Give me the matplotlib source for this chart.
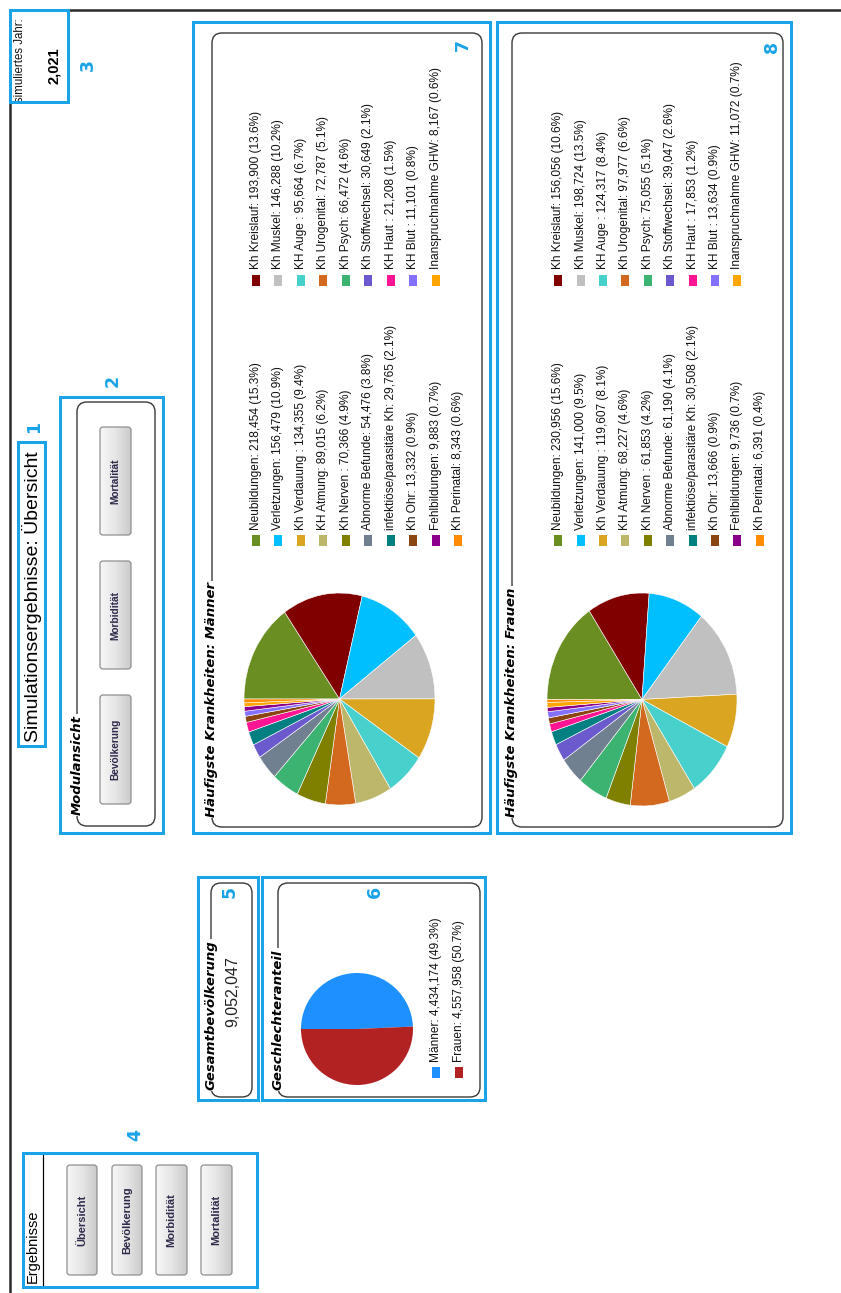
import matplotlib
matplotlib.use("Agg")
import matplotlib.pyplot as plt
from matplotlib.patches import FancyBboxPatch, Rectangle
from matplotlib.colors import LinearSegmentedColormap
import numpy as np

# ---------------- data ----------------
sim_year_label = "simuliertes Jahr:"
sim_year = 2021
page_title = "Simulationsergebnisse: Übersicht"
total_population = 9052047

gender_labels = ["Männer", "Frauen"]
gender_values = [4434174, 4557958]
gender_colors = ["#1E90FF", "#B22222"]

disease_names = ["Neubildungen", "Kh Kreislauf", "Verletzungen", "Kh Muskel",
                 "Kh Verdauung ", "KH Auge ", "KH Atmung", "Kh Urogenital",
                 "Kh Nerven ", "Kh Psych", "Abnorme Befunde", "Kh Stoffwechsel",
                 "infektiöse/parasitäre Kh", "KH Haut ", "Kh Ohr", "KH Blut ",
                 "Fehlbildungen", "Inanspruchnahme GHW", "Kh Perinatal"]
men_values = [218454, 193900, 156479, 146288, 134355, 95664, 89015, 72787,
              70366, 66472, 54476, 30649, 29765, 21208, 13332, 11101,
              9883, 8167, 8343]
women_values = [230956, 156056, 141000, 198724, 119607, 124317, 68227, 97977,
                 61853, 75055, 61190, 39047, 30508, 17853, 13666, 13634,
                 9736, 11072, 6391]
disease_colors = ["#6B8E23", "#800000", "#00BFFF", "#C0C0C0", "#DAA520",
                  "#48D1CC", "#BDB76B", "#D2691E", "#808000", "#3CB371",
                  "#708090", "#6A5ACD", "#008080", "#FF1493", "#8B4513",
                  "#8470FF", "#8B008B", "#FFA500", "#FF8C00"]

nav_title = "Ergebnisse"
nav_buttons = ["Übersicht", "Bevölkerung", "Morbidität", "Mortalität"]
module_title = "Modulansicht"
module_buttons = ["Mortalität", "Morbidität", "Bevölkerung"]
men_title = "Häufigste Krankheiten: Männer"
women_title = "Häufigste Krankheiten: Frauen"
pop_title = "Gesamtbevölkerung"
gender_title = "Geschlechteranteil"

# ---------------- layout ----------------
W, H, DPI = 841, 1293, 100
BLUE = "#1AA3E8"
LEG_FONT = "Liberation Sans"

fig = plt.figure(figsize=(W / DPI, H / DPI), dpi=DPI)
ax = fig.add_axes([0, 0, 1, 1])
ax.set_xlim(0, W)
ax.set_ylim(H, 0)
ax.axis("off")


def px(v):
    return v * 72.0 / DPI


def blue_rect(x0, y0, x1, y1):
    ax.add_patch(Rectangle((x0, y0), x1 - x0, y1 - y0, fill=False,
                           ec=BLUE, lw=px(3), zorder=6))


def blue_num(x, y, s):
    ax.text(x, y, s, rotation=90, ha="center", va="center", color=BLUE,
            fontsize=12.5, fontweight="bold", family="DejaVu Sans", zorder=7)


def group_box(x0, y0, x1, y1, title, ty):
    ax.add_patch(FancyBboxPatch((x0, y0), x1 - x0, y1 - y0,
                                boxstyle="round,pad=0,rounding_size=10",
                                fc="white", ec="#3a3a3a", lw=px(1.4), zorder=2))
    ax.text(x0, ty, title, rotation=90, ha="center", va="bottom",
            fontsize=9.5, fontweight="bold", fontstyle="italic",
            family="DejaVu Sans", color="black", zorder=5,
            bbox=dict(fc="white", ec="none", pad=1.0))


grad_cmap = LinearSegmentedColormap.from_list("btn", ["#f7f7f7", "#e6e6e6", "#cbcbcb"])


def button(x0, y0, x1, y1, label, fs):
    p = FancyBboxPatch((x0, y0), x1 - x0, y1 - y0,
                       boxstyle="round,pad=0,rounding_size=3",
                       fc="none", ec="#8c8c8c", lw=px(1.2), zorder=4)
    ax.add_patch(p)
    g = np.linspace(0, 1, 64).reshape(1, -1)
    im = ax.imshow(g, extent=(x0, x1, y1, y0), cmap=grad_cmap, aspect="auto",
                   zorder=3, interpolation="bilinear")
    im.set_clip_path(p)
    ax.text((x0 + x1) / 2, (y0 + y1) / 2, label, rotation=90, ha="center",
            va="center", fontsize=fs, fontweight="bold", family=LEG_FONT,
            color="#2d2a4a", zorder=5)


def pie_on(x0, y0, x1, y1, values, colors, **kw):
    a = fig.add_axes([x0 / W, 1 - y1 / H, (x1 - x0) / W, (y1 - y0) / H])
    a.pie(values, colors=colors, startangle=180, counterclock=False,
          radius=1, **kw)
    a.set_aspect("auto")
    a.set_xlim(-1, 1)
    a.set_ylim(-1, 1)
    a.axis("off")
    return a


# ---------------- frame ----------------
ax.plot([10, W], [9.5, 9.5], color="#2a2a2a", lw=px(2.5), zorder=1)
ax.plot([10, 10], [9.5, H], color="#2a2a2a", lw=px(2.5), zorder=1)

# ---------------- box 3: simulated year ----------------
ax.text(20, 18, sim_year_label, rotation=90, ha="center", va="top",
        fontsize=8.3, family=LEG_FONT, color="#111111", zorder=5)
ax.text(54, 47, f"{sim_year:,}", rotation=90, ha="center", va="top",
        fontsize=10.5, fontweight="bold", family=LEG_FONT, color="black", zorder=5)
blue_rect(10, 10, 68, 102)
blue_num(88, 65, "3")

# ---------------- box 1: title ----------------
ax.text(32, 742, page_title, rotation=90, ha="center", va="bottom",
        fontsize=14, family=LEG_FONT, color="black", zorder=5)
blue_rect(18, 442, 45, 746)
blue_num(34, 427, "1")

# ---------------- box 2: Modulansicht ----------------
group_box(77, 402, 155, 826, module_title, 815)
for lab, (b0, b1) in zip(module_buttons, [(427, 535), (561, 669), (695, 804)]):
    button(100, b0, 131, b1, lab, 7.3)
blue_rect(60, 397, 163, 833)
blue_num(113, 381, "2")

# ---------------- box 4: Ergebnisse navigation ----------------
ax.text(33, 1283, nav_title, rotation=90, ha="center", va="bottom",
        fontsize=10.5, family=LEG_FONT, color="black", zorder=5)
ax.plot([43, 43], [1153, 1287], color="black", lw=px(1.2), zorder=4)
for lab, (bx0, bx1) in zip(nav_buttons, [(67, 97), (112, 142), (156, 187), (201, 232)]):
    button(bx0, 1165, bx1, 1275, lab, 8)
blue_rect(23, 1153, 257, 1287)
blue_num(135, 1135, "4")

# ---------------- box 5: total population ----------------
group_box(211, 883, 252, 1097, pop_title, 1090)
ax.text(233, 992, f"{total_population:,}", rotation=90, ha="center", va="center",
        fontsize=11.5, family=LEG_FONT, color="#222222", zorder=5)
blue_rect(198, 877, 258, 1100)
blue_num(230, 892, "5")

# ---------------- box 6: gender share ----------------
group_box(278, 883, 480, 1097, gender_title, 1090)
pie_on(301, 973, 413, 1085, gender_values, gender_colors, wedgeprops=dict(lw=0))
gtot = sum(gender_values)
for i, (lab, v, c) in enumerate(zip(gender_labels, gender_values, gender_colors)):
    xc = 436 + 23 * i
    ax.add_patch(Rectangle((xc - 4, 1067), 8, 11, fc=c, ec="none", zorder=5))
    ax.text(xc, 1062, f"{lab}: {v:,} ({v / gtot * 100:.1f}%)", rotation=90,
            ha="center", va="bottom", fontsize=8.6, family=LEG_FONT,
            color="#111111", zorder=5)
blue_rect(262, 877, 485, 1100)
blue_num(375, 892, "6")


# ---------------- boxes 7/8: diseases ----------------
def disease_panel(bx0, bx1, values, title, pie_box, x_first, x_step):
    group_box(bx0, 33, bx1, 827, title, 817)
    pie_on(*pie_box, values, disease_colors, wedgeprops=dict(lw=0.4, ec="white"))
    tot = sum(values)
    for i, (name, v, c) in enumerate(zip(disease_names, values, disease_colors)):
        row, col = i // 2, i % 2
        xc = x_first + x_step * row
        sq_y = 535 if col == 0 else 275
        ty = 530 if col == 0 else 269
        ax.add_patch(Rectangle((xc - 4, sq_y), 8, 11, fc=c, ec="none", zorder=5))
        ax.text(xc, ty, f"{name}: {v:,} ({v / tot * 100:.1f}%)", rotation=90,
                ha="center", va="bottom", fontsize=8.6, family=LEG_FONT,
                color="#111111", zorder=5)


disease_panel(212, 482, men_values, men_title, (244, 593, 435, 805), 256, 22.5)
blue_rect(193, 22, 490, 833)
blue_num(463, 45, "7")

disease_panel(512, 783, women_values, women_title, (547, 593, 737, 806), 558.3, 22.4)
blue_rect(497, 22, 791, 833)
blue_num(772, 47, "8")

ax.set_xlim(0, W)
ax.set_ylim(H, 0)
fig.savefig("out.png", dpi=DPI)
